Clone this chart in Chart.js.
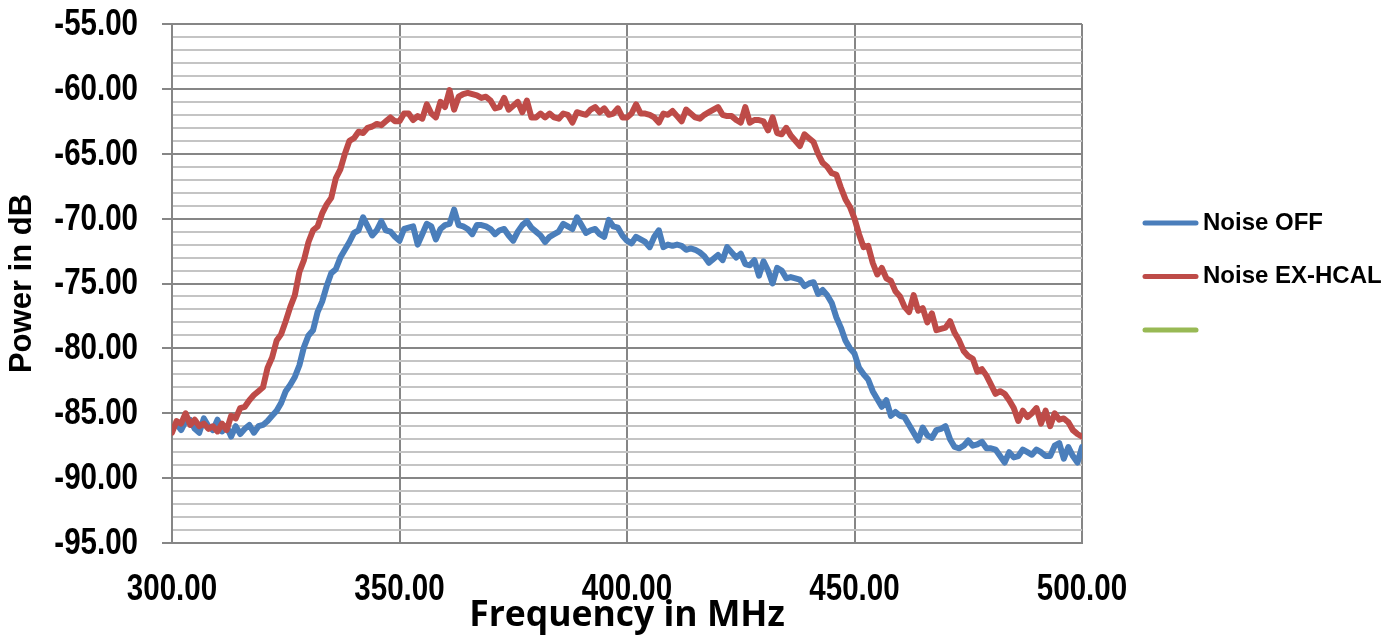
<!DOCTYPE html>
<html>
<head>
<meta charset="utf-8">
<script src="https://cdn.jsdelivr.net/npm/chart.js@4/dist/chart.umd.min.js"></script>
<style>
  html, body { margin: 0; padding: 0; background: #fff; }
  canvas { display: block; }
</style>
</head>
<body>
<canvas id="myChart" width="1398" height="639"></canvas>
<script>
'use strict'

// frequency axis, MHz
const freqMHz = [
  300, 301, 302, 303, 304, 305, 306, 307, 308, 309, 310, 311, 312, 313, 314, 315, 316, 317, 318, 319,
  320, 321, 322, 323, 324, 325, 326, 327, 328, 329, 330, 331, 332, 333, 334, 335, 336, 337, 338, 339,
  340, 341, 342, 343, 344, 345, 346, 347, 348, 349, 350, 351, 352, 353, 354, 355, 356, 357, 358, 359,
  360, 361, 362, 363, 364, 365, 366, 367, 368, 369, 370, 371, 372, 373, 374, 375, 376, 377, 378, 379,
  380, 381, 382, 383, 384, 385, 386, 387, 388, 389, 390, 391, 392, 393, 394, 395, 396, 397, 398, 399,
  400, 401, 402, 403, 404, 405, 406, 407, 408, 409, 410, 411, 412, 413, 414, 415, 416, 417, 418, 419,
  420, 421, 422, 423, 424, 425, 426, 427, 428, 429, 430, 431, 432, 433, 434, 435, 436, 437, 438, 439,
  440, 441, 442, 443, 444, 445, 446, 447, 448, 449, 450, 451, 452, 453, 454, 455, 456, 457, 458, 459,
  460, 461, 462, 463, 464, 465, 466, 467, 468, 469, 470, 471, 472, 473, 474, 475, 476, 477, 478, 479,
  480, 481, 482, 483, 484, 485, 486, 487, 488, 489, 490, 491, 492, 493, 494, 495, 496, 497, 498, 499,
  500
];

// Noise OFF, dB
const noiseOff = [
  -86.2, -85.8, -86.3, -85.6, -85.5, -86.2, -86.5, -85.4, -86.0, -86.3,
  -85.5, -86.4, -86.0, -86.8, -86.0, -86.6, -86.2, -85.9, -86.5, -86.0,
  -85.9, -85.6, -85.2, -84.8, -84.2, -83.3, -82.8, -82.2, -81.3, -79.9,
  -79.0, -78.6, -77.2, -76.4, -75.2, -74.2, -73.9, -73.0, -72.4, -71.8,
  -71.1, -70.9, -69.9, -70.6, -71.3, -70.9, -70.2, -70.9, -71.0, -71.4,
  -71.7, -70.8, -70.7, -70.6, -72.0, -71.2, -70.4, -70.6, -71.6, -70.8,
  -70.5, -70.4, -69.3, -70.5, -70.6, -70.8, -71.2, -70.5, -70.5, -70.6,
  -70.8, -71.2, -70.9, -70.8, -71.3, -71.7, -71.0, -70.5, -70.2, -70.7,
  -71.0, -71.3, -71.8, -71.4, -71.2, -71.0, -70.4, -70.6, -70.8, -69.9,
  -70.5, -71.1, -70.9, -70.8, -71.2, -71.4, -70.1, -70.6, -70.7, -71.3,
  -71.7, -71.9, -71.4, -71.6, -71.8, -72.2, -71.4, -70.9, -72.2, -72.0,
  -72.1, -72.0, -72.1, -72.4, -72.3, -72.4, -72.6, -72.9, -73.4, -73.1,
  -72.8, -73.2, -72.2, -72.6, -73.0, -72.7, -73.5, -73.6, -73.2, -74.4,
  -73.3, -74.0, -75.0, -73.8, -74.0, -74.6, -74.5, -74.6, -74.7, -75.2,
  -75.0, -74.9, -75.8, -75.5, -75.9, -76.5, -77.6, -78.4, -79.4, -80.0,
  -80.4, -81.5, -82.0, -82.4, -83.3, -83.9, -84.5, -84.0, -85.2, -84.9,
  -85.2, -85.3, -85.9, -86.5, -87.1, -86.1, -86.7, -86.9, -86.3, -86.2,
  -86.0, -87.0, -87.6, -87.7, -87.5, -87.1, -87.5, -87.4, -87.2, -87.7,
  -87.7, -87.8, -88.3, -88.8, -88.0, -88.4, -88.3, -87.8, -88.0, -88.2,
  -87.8, -88.0, -88.3, -88.3, -87.5, -87.3, -88.5, -87.6, -88.3, -88.8,
  -87.6
];

// Noise EX-HCAL, dB
const noiseExHcal = [
  -86.5, -85.6, -85.8, -85.0, -85.9, -85.5, -86.0, -85.8, -86.2, -86.0,
  -86.4, -85.8, -86.3, -85.2, -85.4, -84.6, -84.5, -84.0, -83.6, -83.3,
  -83.0, -81.5, -80.7, -79.4, -78.9, -77.9, -76.8, -75.9, -74.1, -73.2,
  -71.8, -70.9, -70.6, -69.6, -68.9, -68.4, -66.9, -66.2, -65.0, -64.0,
  -63.8, -63.3, -63.4, -63.0, -62.9, -62.7, -62.8, -62.5, -62.2, -62.5,
  -62.5, -61.9, -61.9, -62.4, -62.1, -62.3, -61.2, -61.9, -62.2, -61.0,
  -61.4, -60.1, -61.6, -60.6, -60.4, -60.3, -60.4, -60.5, -60.7, -60.6,
  -60.9, -61.5, -61.4, -60.7, -61.6, -61.3, -61.0, -61.8, -60.9, -62.2,
  -62.2, -61.9, -62.2, -61.9, -62.2, -62.3, -61.9, -62.0, -62.6, -61.8,
  -61.9, -62.0, -61.6, -61.4, -61.8, -61.5, -62.0, -61.9, -61.5, -62.2,
  -62.2, -61.9, -61.2, -61.9, -61.9, -62.0, -62.2, -62.6, -61.9, -62.0,
  -61.7, -62.1, -62.5, -61.6, -61.9, -62.2, -62.3, -62.0, -61.8, -61.6,
  -61.4, -62.0, -62.1, -62.1, -62.4, -62.6, -61.4, -62.6, -62.4, -62.4,
  -62.5, -63.2, -62.2, -63.4, -63.5, -63.0, -63.6, -64.0, -64.4, -63.5,
  -63.8, -64.1, -65.0, -65.7, -66.0, -66.5, -66.6, -67.6, -68.5, -69.1,
  -70.0, -71.2, -72.2, -72.1, -73.4, -74.3, -73.8, -74.6, -74.8, -75.6,
  -76.0, -76.8, -77.2, -75.9, -77.1, -76.9, -78.0, -77.3, -78.6, -78.5,
  -78.4, -77.9, -78.8, -79.4, -80.2, -80.6, -80.8, -81.8, -81.6, -82.1,
  -82.8, -83.5, -83.3, -83.5, -84.0, -84.6, -85.6, -84.8, -85.3, -85.0,
  -84.6, -85.8, -84.8, -86.0, -85.0, -85.5, -85.4, -85.7, -86.3, -86.6,
  -86.8
];

// third series has no label and no points, only its legend line shows
const thirdSeries = [];

const seriesNames = ['Noise OFF', 'Noise EX-HCAL', ''];
const seriesColors = ['#4A7EBB', '#BE4B48', '#98B954'];

const xMin = 300, xMax = 500, xStep = 50;
const yMin = -95, yMax = -55, yMajor = 5;

const toPoints = (values) => values.map((v, i) => ({ x: freqMHz[i], y: v }));

const majorGrid = '#868686';
const minorGrid = '#c4c4c4';
const layoutFont = { family: '"Liberation Sans", Arial, sans-serif', size: 30, weight: 'bold', lineHeight: 1.2 };

// tick labels in a narrow bold look (squeezed sideways)
const narrowTicks = {
  id: 'narrowTicks',
  afterDraw(chart) {
    const c = chart.ctx;
    const xs = chart.scales.x, ys = chart.scales.y;
    const squeeze = 0.82;
    c.save();
    c.fillStyle = '#000';
    c.font = 'bold 36px "Liberation Sans", Arial, sans-serif';
    c.textBaseline = 'middle';
    ys.ticks.forEach((t) => {
      if (t.value % yMajor !== 0) return;
      c.save();
      c.translate(ys.right - 34, ys.getPixelForValue(t.value) + 1);
      c.scale(squeeze, 1);
      c.textAlign = 'right';
      c.fillText(t.value.toFixed(2), 0, 0);
      c.restore();
    });
    xs.ticks.forEach((t) => {
      c.save();
      c.translate(xs.getPixelForValue(t.value), xs.top + 47);
      c.scale(squeeze, 1);
      c.textAlign = 'center';
      c.fillText(t.value.toFixed(2), 0, 0);
      c.restore();
    });
    c.restore();
  }
};

const sideLegend = {
  id: 'sideLegend',
  afterDraw(chart) {
    const ctx = chart.ctx;
    const top = 223, gap = 53.5;
    chart.data.datasets.forEach((ds, i) => {
      const y = top + i * gap;
      ctx.save();
      ctx.strokeStyle = ds.borderColor;
      ctx.lineWidth = 5;
      ctx.lineCap = 'round';
      ctx.beginPath();
      ctx.moveTo(1145, y);
      ctx.lineTo(1196, y);
      ctx.stroke();
      ctx.fillStyle = '#000';
      ctx.font = 'bold 24px "Liberation Sans", Arial, sans-serif';
      ctx.textBaseline = 'middle';
      ctx.textAlign = 'left';
      ctx.fillText(ds.label, 1203, y);
      ctx.restore();
    });
  }
};

const ctx = document.getElementById('myChart');

const myChart = new Chart(ctx, {
  type: 'line',
  data: {
    datasets: [
      {
        label: seriesNames[0],
        data: toPoints(noiseOff),
        borderColor: seriesColors[0],
        order: 1,
      },
      {
        label: seriesNames[1],
        data: toPoints(noiseExHcal),
        borderColor: seriesColors[1],
        order: 0,
      },
      {
        label: seriesNames[2],
        data: thirdSeries,
        borderColor: seriesColors[2],
        order: 2,
      },
    ],
  },
  options: {
    responsive: false,
    animation: false,
    events: [],
    layout: { padding: { top: 24, right: 316, bottom: 0, left: 0 } },
    elements: {
      point: { radius: 0 },
      line: { borderWidth: 6, tension: 0, borderJoinStyle: 'round', borderCapStyle: 'round' },
    },
    plugins: {
      legend: { display: false },
      tooltip: { enabled: false },
    },
    scales: {
      x: {
        type: 'linear',
        min: xMin,
        max: xMax,
        afterFit: (scale) => { scale.height = 96; },
        ticks: {
          stepSize: xStep,
          color: 'rgba(0,0,0,0)',
          font: layoutFont,
          padding: 0,
          maxRotation: 0,
          callback: (v) => v.toFixed(2),
        },
        grid: { color: majorGrid, lineWidth: 2, drawTicks: false },
        border: { color: majorGrid, width: 2 },
        title: {
          display: true,
          text: 'Frequency in MHz',
          color: '#000',
          font: { family: '"Open Sans", sans-serif', size: 35.5, weight: 'bold', lineHeight: 1.2 },
          padding: { top: 0, bottom: 2 },
        },
      },
      y: {
        min: yMin,
        max: yMax,
        afterFit: (scale) => { scale.width = 172; },
        ticks: {
          stepSize: 1,
          autoSkip: false,
          color: 'rgba(0,0,0,0)',
          font: layoutFont,
          padding: 0,
          callback: (v) => (v % yMajor === 0 ? v.toFixed(2) : ''),
        },
        grid: {
          color: (c) => (c.tick && c.tick.value % yMajor === 0 ? majorGrid : minorGrid),
          tickColor: (c) => (c.tick && c.tick.value % yMajor === 0 ? majorGrid : 'rgba(0,0,0,0)'),
          lineWidth: 2,
          tickLength: 10,
        },
        border: { color: majorGrid, width: 2 },
        title: {
          display: true,
          text: 'Power in dB',
          color: '#000',
          font: { family: '"Liberation Sans", Arial, sans-serif', size: 31, weight: 'bold', lineHeight: 1.2 },
          padding: { top: 4, bottom: 0 },
        },
      },
    },
  },
  plugins: [narrowTicks, sideLegend],
});
</script>
</body>
</html>
